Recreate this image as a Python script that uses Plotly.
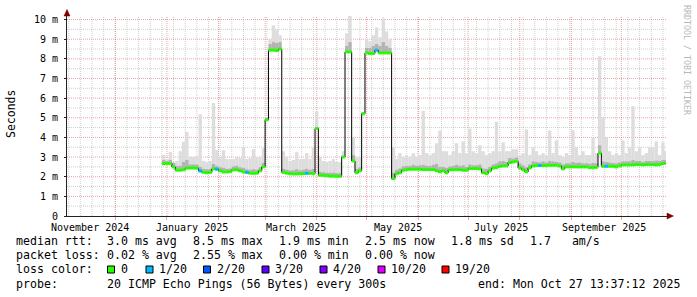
import pandas as pd
import plotly.graph_objects as go

# ---------------- data ----------------
start_date = "2024-12-29"
step_days = 2
end_time = "2025-10-27 13:37:12"

median_ms = [
    2.67, 2.67, 2.67, 2.50, 2.33, 2.33, 2.35, 2.44, 2.44, 2.44,
    2.44, 2.29, 2.22, 2.20, 2.22, 2.40, 2.38, 2.30, 2.24, 2.24,
    2.26, 2.35, 2.35, 2.30, 2.24, 2.22, 2.18, 2.17, 2.18, 2.30,
    2.50, 4.90, 8.44, 8.44, 8.42, 8.50, 2.22, 2.18, 2.16, 2.14,
    2.14, 2.15, 2.16, 2.17, 2.17, 2.16, 4.45, 2.07, 2.07, 2.05,
    2.03, 2.03, 2.02, 2.02, 3.00, 8.35, 8.35, 2.80, 2.20, 2.30,
    5.20, 8.30, 8.27, 8.27, 8.44, 8.30, 8.30, 8.30, 8.30, 1.90,
    2.15, 2.20, 2.33, 2.36, 2.38, 2.38, 2.38, 2.38, 2.36, 2.36,
    2.36, 2.36, 2.30, 2.25, 2.30, 2.20, 2.35, 2.36, 2.36, 2.36,
    2.33, 2.33, 2.41, 2.41, 2.41, 2.40, 2.20, 2.16, 2.30, 2.44,
    2.46, 2.53, 2.55, 2.55, 2.72, 2.75, 2.78, 2.45, 2.36, 2.25,
    2.45, 2.55, 2.57, 2.57, 2.57, 2.57, 2.58, 2.58, 2.58, 2.55,
    2.40, 2.50, 2.50, 2.50, 2.50, 2.50, 2.50, 2.50, 2.46, 2.46,
    2.48, 3.20, 2.53, 2.53, 2.53, 2.53, 2.50, 2.55, 2.60, 2.60,
    2.60, 2.60, 2.62, 2.62, 2.60, 2.62, 2.62, 2.62, 2.60, 2.62,
    2.67, 2.67,
]

smoke_hi_ms = [
    2.85, 2.80, 2.85, 2.70, 2.55, 2.55, 2.75, 2.85, 2.62, 2.62,
    2.62, 2.50, 2.40, 2.38, 2.40, 2.65, 2.55, 2.48, 2.45, 2.40,
    2.42, 2.52, 2.55, 2.48, 2.45, 2.38, 2.35, 2.38, 2.35, 2.48,
    2.70, 4.95, 8.75, 8.85, 8.80, 8.85, 2.40, 2.35, 2.32, 2.32,
    2.38, 2.32, 2.35, 2.40, 2.35, 2.40, 4.50, 2.25, 2.22, 2.20,
    2.20, 2.20, 2.18, 2.18, 3.05, 8.65, 8.85, 3.10, 2.40, 2.48,
    5.25, 8.55, 8.55, 8.65, 8.75, 8.65, 8.85, 8.65, 8.55, 2.20,
    2.35, 2.42, 2.52, 2.55, 2.55, 2.60, 2.55, 2.58, 2.60, 2.55,
    2.55, 2.60, 2.65, 2.50, 2.50, 2.45, 2.52, 2.55, 2.60, 2.55,
    2.58, 2.50, 2.62, 2.58, 2.58, 2.62, 2.42, 2.40, 2.50, 2.62,
    2.68, 2.78, 2.80, 2.75, 2.95, 2.92, 2.98, 2.68, 2.58, 2.48,
    2.62, 2.78, 2.75, 2.72, 2.78, 2.72, 2.80, 2.78, 2.75, 2.72,
    2.62, 2.68, 2.68, 2.75, 2.70, 2.72, 2.68, 2.68, 2.65, 2.70,
    2.68, 3.60, 2.78, 2.75, 2.72, 2.70, 2.68, 2.72, 2.78, 2.78,
    2.78, 2.85, 2.80, 2.80, 2.75, 2.80, 2.80, 2.80, 2.82, 2.80,
    2.85, 2.85,
]

smoke_max_ms = [
    3.10, 2.90, 3.25, 2.75, 2.80, 3.30, 3.77, 4.28, 3.00, 3.00,
    3.05, 5.18, 2.80, 2.75, 2.80, 5.75, 3.35, 3.00, 3.35, 2.90,
    2.90, 2.90, 3.00, 2.95, 3.50, 2.90, 2.95, 3.40, 3.00, 3.00,
    3.45, 5.00, 9.00, 9.70, 9.50, 9.20, 3.30, 3.00, 2.80, 2.85,
    3.25, 2.90, 2.90, 3.20, 2.90, 3.50, 5.30, 3.00, 2.80, 2.75,
    2.80, 2.90, 2.75, 2.75, 3.30, 9.30, 10.20, 4.00, 3.00, 3.00,
    5.30, 9.00, 8.90, 9.20, 9.60, 9.10, 10.05, 9.40, 9.00, 3.50,
    2.90, 3.20, 3.00, 3.10, 3.00, 3.20, 3.00, 3.10, 5.35, 3.20,
    3.10, 3.20, 3.70, 4.35, 3.30, 3.30, 3.10, 3.30, 3.70, 3.20,
    3.80, 3.20, 4.45, 3.30, 3.20, 3.60, 3.30, 3.10, 3.20, 3.30,
    4.80, 3.30, 3.75, 3.30, 3.30, 3.40, 3.40, 3.10, 3.20, 4.40,
    3.10, 3.50, 3.30, 3.10, 3.20, 3.10, 4.36, 3.20, 3.85, 3.10,
    3.00, 3.20, 3.10, 4.36, 3.50, 3.10, 3.30, 3.10, 3.10, 4.00,
    3.20, 8.13, 5.04, 4.00, 3.30, 3.10, 3.20, 3.10, 3.85, 3.20,
    3.50, 5.59, 3.30, 3.50, 3.10, 3.20, 3.50, 3.50, 3.80, 3.10,
    3.75, 3.30,
]

loss_1of20_dates = ["2025-01-20", "2025-01-30", "2025-02-17", "2025-03-25",
                    "2025-05-06", "2025-08-12", "2025-09-21"]

y_tick_vals = [0, 1, 2, 3, 4, 5, 6, 7, 8, 9, 10]
y_tick_text = ["0", "1 m", "2 m", "3 m", "4 m", "5 m", "6 m", "7 m", "8 m", "9 m", "10 m"]

x_label_dates = ["2024-11-16 01:00", "2025-01-16 06:00", "2025-03-19 13:00",
                 "2025-05-20 02:00", "2025-07-20 17:00", "2025-09-20 14:00"]
x_label_text = ["November 2024", "January 2025", "March 2025",
                "May 2025", "July 2025", "September 2025"]

loss_labels = ["0", "1/20", "2/20", "3/20", "4/20", "10/20", "19/20"]
loss_colors = ["#26ff00", "#00b8ff", "#0059ff", "#5e00ff", "#7e00ff", "#dd00ff", "#ff0000"]

rtt_stats = ["3.0 ms avg", "8.5 ms max", "1.9 ms min", "2.5 ms now", "1.8 ms sd", "1.7   am/s"]
loss_stats = ["0.02 % avg", "2.55 % max", "0.00 % min", "0.00 % now"]
probe_text = "20 ICMP Echo Pings (56 Bytes) every 300s"
end_text = "end: Mon Oct 27 13:37:12 2025"

# ---------------- geometry / style ----------------
W, H = 697, 297
ML, MR, MT, MB = 67, 30, 16, 81
PW, PH = W - ML - MR, H - MT - MB
x_range = ["2024-11-01 23:30", "2025-10-28 10:50"]
y_range = [0, 10.18]
MONO = "DejaVu Sans Mono"
MGRID = "rgba(228,100,100,0.6)"
GRID = "rgba(160,160,160,0.5)"
DASH = "1px,1px"


def px(x):
    return (x - ML) / PW


def py(y):
    return (MT + PH - y) / PH


dates = pd.date_range(start_date, periods=len(median_ms), freq=f"{step_days}D")
end_ts = pd.Timestamp(end_time)
seg_end = [min(d + pd.Timedelta(days=step_days), end_ts) for d in dates]
widths = [(e - d).total_seconds() * 1000 for d, e in zip(dates, seg_end)]
loss_set = set(pd.to_datetime(loss_1of20_dates))

fig = go.Figure()

# smoke
fig.add_trace(go.Bar(x=dates, y=[a - m for a, m in zip(smoke_max_ms, median_ms)], base=median_ms,
                     width=widths, offset=0, marker=dict(color="#dddddd", line=dict(width=0)),
                     hoverinfo="skip"))
fig.add_trace(go.Bar(x=dates, y=[a - m for a, m in zip(smoke_hi_ms, median_ms)], base=median_ms,
                     width=widths, offset=0, marker=dict(color="#b3b3b3", line=dict(width=0)),
                     hoverinfo="skip"))

# median (black connecting step line)
fig.add_trace(go.Scatter(x=list(dates) + [end_ts], y=median_ms + [median_ms[-1]],
                         mode="lines", line=dict(color="black", width=1, shape="hv"),
                         hoverinfo="skip"))

# loss-coloured median segments
for col, pick in [(loss_colors[0], False), (loss_colors[1], True)]:
    xs, ys = [], []
    for d, e, m in zip(dates, seg_end, median_ms):
        if (d in loss_set) == pick:
            xs += [d, e, None]
            ys += [m, m, None]
    fig.add_trace(go.Scatter(x=xs, y=ys, mode="lines", line=dict(color=col, width=3),
                             hoverinfo="skip", connectgaps=False))

shapes = []
# grid: minor (weekly / half unit, grey) then major (monthly / unit, red), below the data
for d in pd.date_range("2024-11-03", "2025-10-28", freq="7D"):
    shapes.append(dict(type="line", layer="between", xref="x", yref="paper", x0=d, x1=d, y0=0, y1=1,
                       line=dict(color=GRID, width=1, dash=DASH)))
for v in [0.5 + k for k in range(10)]:
    shapes.append(dict(type="line", layer="between", xref="paper", yref="y", x0=0, x1=1, y0=v, y1=v,
                       line=dict(color=GRID, width=1, dash=DASH)))
for d in pd.date_range("2024-12-01", "2025-10-01", freq="MS"):
    shapes.append(dict(type="line", layer="between", xref="x", yref="paper", x0=d, x1=d, y0=0, y1=1,
                       line=dict(color=MGRID, width=1, dash=DASH)))
for v in y_tick_vals[1:]:
    shapes.append(dict(type="line", layer="between", xref="paper", yref="y", x0=0, x1=1, y0=v, y1=v,
                       line=dict(color=MGRID, width=1, dash=DASH)))

annotations = []


def text(x, y, s, size=11.6, color="black", angle=0, xanchor="left"):
    annotations.append(dict(x=px(x), y=py(y), xref="paper", yref="paper", text=s.replace(" ", "\u00a0"),
                            showarrow=False, xanchor=xanchor, yanchor="middle", textangle=angle,
                            borderpad=0, borderwidth=0,
                            font=dict(family=MONO, size=size, color=color)))


# x-axis labels placed on the date scale
for d, s in zip(x_label_dates, x_label_text):
    annotations.append(dict(x=d, y=py(227.5), xref="x", yref="paper", text=s.replace(" ", "\u00a0"),
                            showarrow=False, xanchor="center", yanchor="middle",
                            borderpad=0, borderwidth=0,
                            font=dict(family=MONO, size=10, color="black")))

cols = [106.5, 192.5, 278.5, 364.5, 450.5, 529.5]
text(15.5, 241, "median rtt:")
for c, s in zip(cols, rtt_stats):
    text(c, 241, s)
text(15.5, 255, "packet loss:")
for c, s in zip(cols, loss_stats):
    text(c, 255, s)
text(15.5, 269.3, "loss color:")
box_x = [107.5, 146, 203.5, 262, 320, 378, 442]
for bx, lab, col in zip(box_x, loss_labels, loss_colors):
    shapes.append(dict(type="rect", xref="paper", yref="paper", x0=px(bx), x1=px(bx + 7),
                       y0=py(273), y1=py(266), fillcolor=col, line=dict(color="black", width=1)))
    text(bx + 13, 269.3, lab)
text(15.5, 284, "probe:")
text(106.5, 284, probe_text)
text(478, 284, end_text)

# axis title and watermark
text(11, 114, "Seconds", size=11.5, angle=-90, xanchor="center")
text(687, 60, "RRDTOOL / TOBI OETIKER", size=8.3, color="#b8b8b8", angle=90, xanchor="center")

# arrows
shapes.append(dict(type="path", xref="paper", yref="paper",
                   path=f"M {px(667)},{py(213)} L {px(667)},{py(219)} L {px(673.5)},{py(216)} Z",
                   fillcolor="#800000", line=dict(color="#800000", width=0.5)))
shapes.append(dict(type="path", xref="paper", yref="paper",
                   path=f"M {px(64)},{py(16)} L {px(70)},{py(16)} L {px(67)},{py(9.5)} Z",
                   fillcolor="#800000", line=dict(color="#800000", width=0.5)))

fig.update_layout(
    width=W, height=H, margin=dict(l=ML, r=MR, t=MT, b=MB),
    paper_bgcolor="white", plot_bgcolor="white",
    showlegend=False, barmode="overlay",
    font=dict(family=MONO, size=10, color="black"),
    xaxis=dict(type="date", range=x_range, tickmode="linear", tick0="2024-12-01", dtick="M1",
               showticklabels=False, showgrid=False, ticks="outside", ticklen=3, tickcolor=MGRID,
               showline=True, linecolor="#222", zeroline=False),
    yaxis=dict(range=y_range, tickmode="array", tickvals=y_tick_vals, ticktext=y_tick_text,
               showgrid=False, zeroline=False, showline=True, linecolor="#222",
               ticks="outside", ticklen=2, tickcolor="#222", ticklabelstandoff=4,
               tickfont=dict(family=MONO, size=10)),
    annotations=annotations, shapes=shapes,
)

fig.write_html("out.html")
